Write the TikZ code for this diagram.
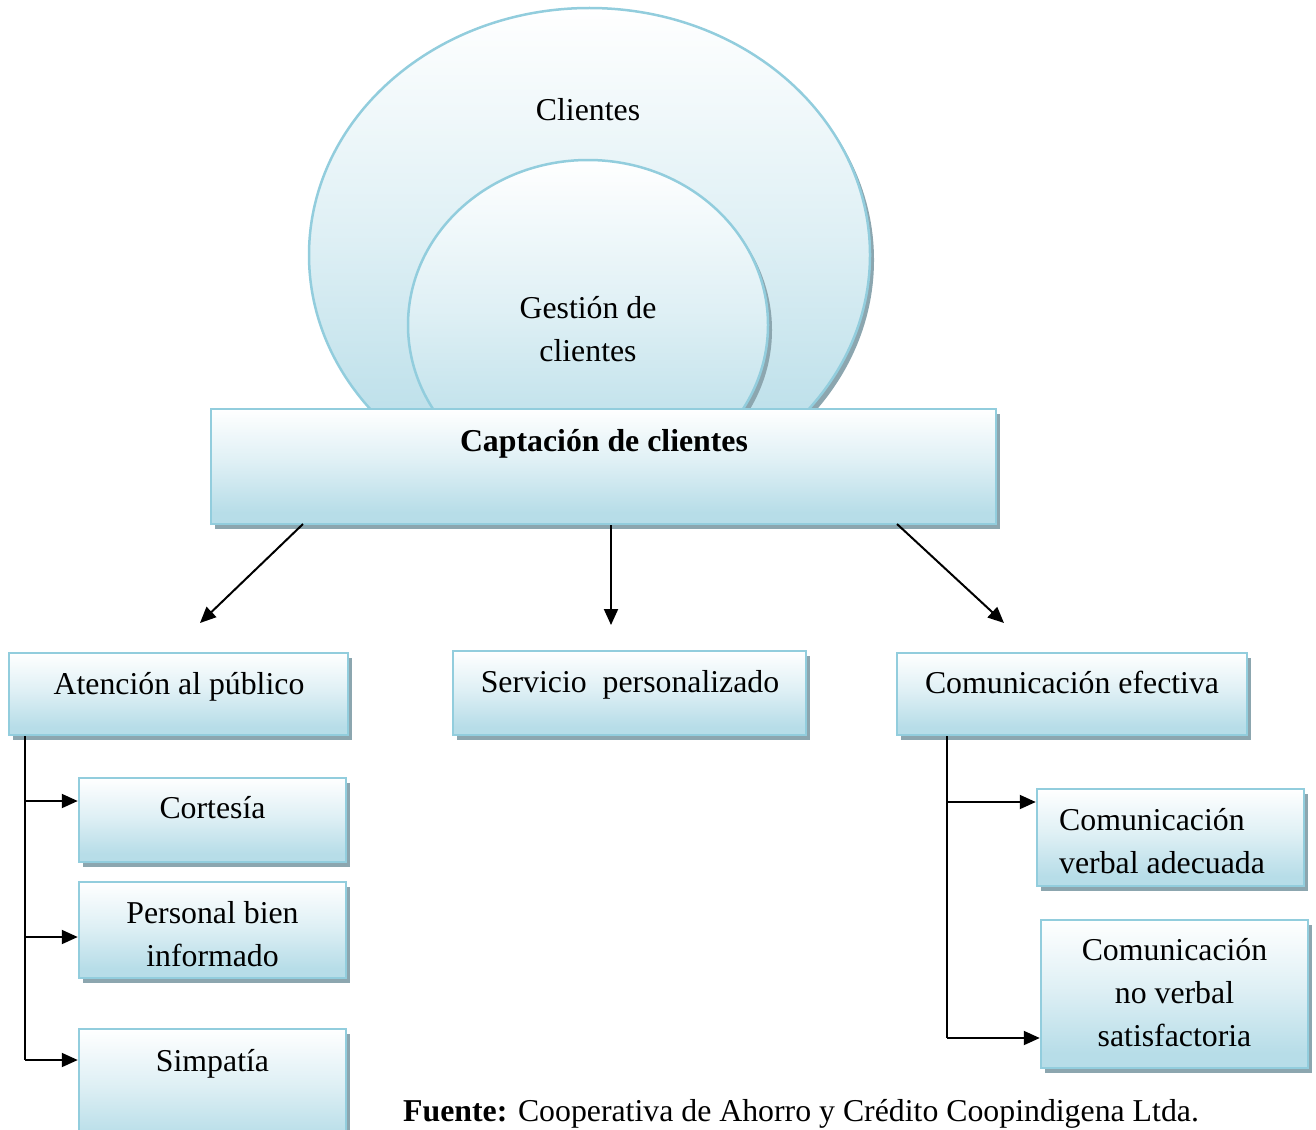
\documentclass[tikz,border=0pt]{standalone}
\usepackage{fontspec}
\setmainfont{Liberation Serif}
\usetikzlibrary{shapes.geometric,shadows,arrows.meta}
\definecolor{edgeblue}{RGB}{146,205,221}
\definecolor{fillblue}{RGB}{183,221,232}
\definecolor{shadowgrey}{RGB}{140,166,175}
% soft white-to-blue fill used by every panel
\pgfdeclareverticalshading{softblue}{100bp}{color(0bp)=(fillblue); color(30bp)=(fillblue); color(52bp)=(fillblue!45!white); color(75bp)=(white); color(100bp)=(white)}

\begin{document}
\begin{tikzpicture}[x=1pt,y=-1pt,
  txt/.style={font=\fontsize{31.8pt}{43pt}\selectfont, inner sep=0pt, anchor=base, align=center},
  panel/.style={draw=edgeblue, line width=2.5pt, shade, shading=softblue, inner sep=0pt,
    drop shadow={shadow xshift=4pt, shadow yshift=-5pt, fill=shadowgrey, opacity=1}},
  boxc/.style={panel, rectangle},
  ring/.style={panel, ellipse},
  arr/.style={line width=2pt, -{Triangle[length=16pt,width=14pt]}},
  link/.style={line width=2pt}]
\useasboundingbox (0,0) rectangle (1316,1129);
\clip (0,0) rectangle (1316,1129);

% nested rings (multi-line labels are placed by their last baseline)
\node[ring, minimum width=561pt, minimum height=494pt] (clientes) at (589.5,255) {};
\node[ring, minimum width=360pt, minimum height=330pt] (gestion) at (588,325) {};
\node[txt] (clientes-t) at (588,121) {Clientes};
\node[txt] (gestion-t) at (588,361) {Gestión de\\clientes};

% main box
\node[boxc, minimum width=785pt, minimum height=115pt] (cap) at (603.5,466.5) {};
\node[txt, font=\fontsize{31.8pt}{43pt}\selectfont\bfseries] (cap-t) at (604,451) {Captación de clientes};

% second level
\node[boxc, minimum width=339pt, minimum height=82pt] (aten) at (178.5,694) {};
\node[boxc, minimum width=353pt, minimum height=84pt] (serv) at (629.5,693) {};
\node[boxc, minimum width=350pt, minimum height=82pt] (comef) at (1072,694) {};
\node[txt] (aten-t) at (179,694) {Atención al público};
\node[txt] (serv-t) at (630,692) {Servicio\ \ personalizado};
\node[txt] (comef-t) at (1072,693) {Comunicación efectiva};

% third level, left
\node[boxc, minimum width=267pt, minimum height=84pt] (cort) at (212.5,820) {};
\node[boxc, minimum width=267pt, minimum height=96pt] (pers) at (212.5,930) {};
\node[boxc, minimum width=267pt, minimum height=120pt] (simp) at (212.5,1089) {};
\node[txt] (cort-t) at (212.5,818) {Cortesía};
\node[txt] (pers-t) at (212.5,966) {Personal bien\\informado};
\node[txt] (simp-t) at (212.5,1071) {Simpatía};

% third level, right
\node[boxc, minimum width=267pt, minimum height=97pt] (cverb) at (1170.5,837.5) {};
\node[boxc, minimum width=267pt, minimum height=148pt] (cnov) at (1174.5,994) {};
\node[txt, anchor=base west, align=left] (cverb-t) at (1059,873) {Comunicación\\verbal adecuada};
\node[txt] (cnov-t) at (1174.5,1046) {Comunicación\\no verbal\\satisfactoria};

% source line
\node[txt, anchor=base west] (fuente) at (403,1121) {\textbf{Fuente:} Cooperativa de Ahorro y Crédito Coopindigena Ltda.};

% connectors from the main box
\coordinate (s1) at (303,524);
\coordinate (e1) at (200,623);
\coordinate (m1) at (611,625);
\coordinate (s3) at (897,524);
\coordinate (e3) at (1004,623);
\draw[arr] (s1) -- (e1);
\draw[arr] (m1 |- cap.south) -- (m1);
\draw[arr] (s3) -- (e3);

% left bus
\coordinate (lj1) at (25,801);
\coordinate (lj2) at (25,937);
\coordinate (lj3) at (25,1060);
\draw[link] (lj1 |- aten.south) -- (lj3);
\draw[arr] (lj1) -- (lj1 -| cort.west);
\draw[arr] (lj2) -- (lj2 -| pers.west);
\draw[arr] (lj3) -- (lj3 -| simp.west);

% right bus
\coordinate (rj1) at (947,802);
\coordinate (rj2) at (947,1038);
\draw[link] (rj1 |- comef.south) -- (rj2);
\draw[arr] (rj1) -- (rj1 -| cverb.west);
\draw[arr] (rj2) -- (rj2 -| cnov.west);
\end{tikzpicture}
\end{document}
